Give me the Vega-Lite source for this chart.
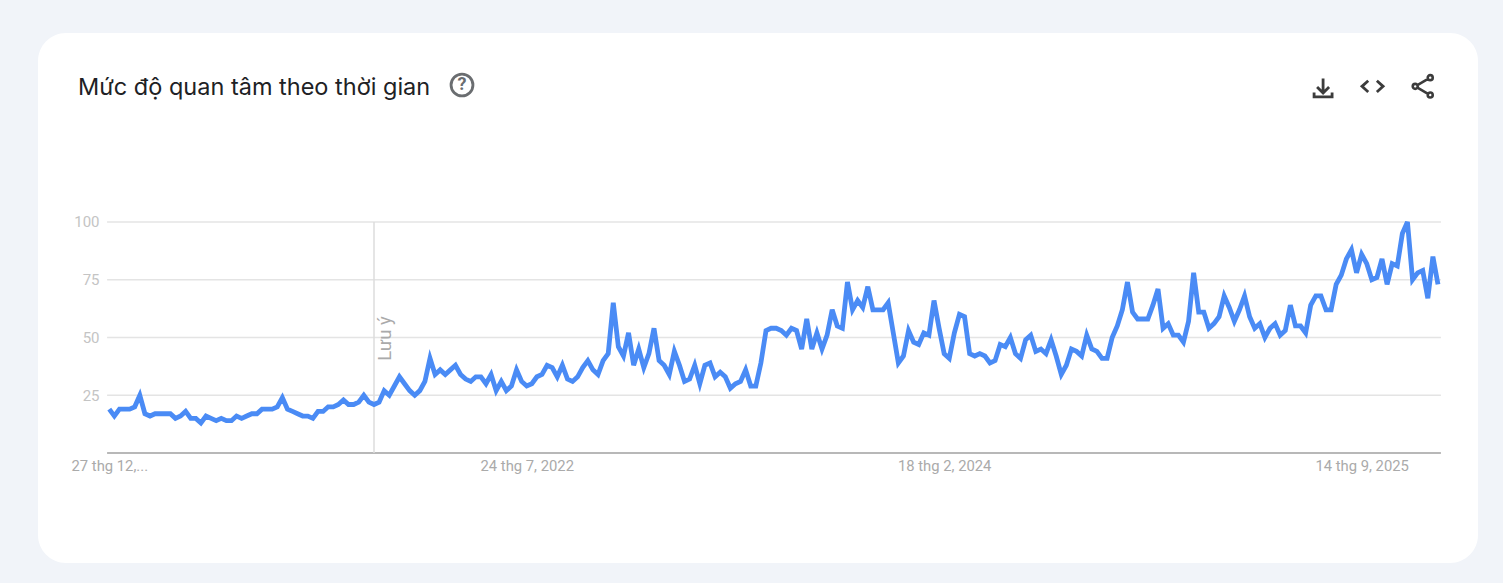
{
"$schema":"https://vega.github.io/schema/vega-lite/v6.json",
"autosize":{"type":"none"},
"width":1440,"height":530,
"padding":{"left":38,"top":33,"right":25,"bottom":20},
"background":"#f1f4f9",
"view":{"fill":"#ffffff","cornerRadius":28,"stroke":null},
"title":{"text":"Mức độ quan tâm theo thời gian","anchor":"start","frame":"group","orient":"top","offset":-85,"dx":40,"baseline":"alphabetic","font":"Inter","fontSize":23.5,"fontWeight":"normal","color":"#202124"},
"datasets":{
"grid":[{"date":"2020-12-24","end":"2026-01-01","v":25},{"date":"2020-12-24","end":"2026-01-01","v":50},{"date":"2020-12-24","end":"2026-01-01","v":75},{"date":"2020-12-24","end":"2026-01-01","v":100}],
"base":[{"date":"2020-12-24","end":"2026-01-01","v":0}],
"note":[{"date":"2021-12-26","v":0,"v2":100}],
"noteLabel":[{"date":"2022-01-10","v":49.6,"label":"Lưu ý"}],
"help":[{"date":"2022-04-26","v":159.3,"label":"?"}],
"icons":[
{"name":"download","date":"2025-07-23","v":158},
{"name":"code","date":"2025-09-29","v":158.7},
{"name":"share","date":"2025-12-07","v":158.7}],
"trend":[
{"date":"2020-12-27","v":19},{"date":"2021-01-03","v":16},{"date":"2021-01-10","v":19},{"date":"2021-01-17","v":19},{"date":"2021-01-24","v":19},{"date":"2021-01-31","v":20},{"date":"2021-02-07","v":25},{"date":"2021-02-14","v":17},{"date":"2021-02-21","v":16},{"date":"2021-02-28","v":17},
{"date":"2021-03-07","v":17},{"date":"2021-03-14","v":17},{"date":"2021-03-21","v":17},{"date":"2021-03-28","v":15},{"date":"2021-04-04","v":16},{"date":"2021-04-11","v":18},{"date":"2021-04-18","v":15},{"date":"2021-04-25","v":15},{"date":"2021-05-02","v":13},{"date":"2021-05-09","v":16},
{"date":"2021-05-16","v":15},{"date":"2021-05-23","v":14},{"date":"2021-05-30","v":15},{"date":"2021-06-06","v":14},{"date":"2021-06-13","v":14},{"date":"2021-06-20","v":16},{"date":"2021-06-27","v":15},{"date":"2021-07-04","v":16},{"date":"2021-07-11","v":17},{"date":"2021-07-18","v":17},
{"date":"2021-07-25","v":19},{"date":"2021-08-01","v":19},{"date":"2021-08-08","v":19},{"date":"2021-08-15","v":20},{"date":"2021-08-22","v":24},{"date":"2021-08-29","v":19},{"date":"2021-09-05","v":18},{"date":"2021-09-12","v":17},{"date":"2021-09-19","v":16},{"date":"2021-09-26","v":16},
{"date":"2021-10-03","v":15},{"date":"2021-10-10","v":18},{"date":"2021-10-17","v":18},{"date":"2021-10-24","v":20},{"date":"2021-10-31","v":20},{"date":"2021-11-07","v":21},{"date":"2021-11-14","v":23},{"date":"2021-11-21","v":21},{"date":"2021-11-28","v":21},{"date":"2021-12-05","v":22},
{"date":"2021-12-12","v":25},{"date":"2021-12-19","v":22},{"date":"2021-12-26","v":21},{"date":"2022-01-02","v":22},{"date":"2022-01-09","v":27},{"date":"2022-01-16","v":25},{"date":"2022-01-23","v":29},{"date":"2022-01-30","v":33},{"date":"2022-02-06","v":30},{"date":"2022-02-13","v":27},
{"date":"2022-02-20","v":25},{"date":"2022-02-27","v":27},{"date":"2022-03-06","v":31},{"date":"2022-03-13","v":41},{"date":"2022-03-20","v":34},{"date":"2022-03-27","v":36},{"date":"2022-04-03","v":34},{"date":"2022-04-10","v":36},{"date":"2022-04-17","v":38},{"date":"2022-04-24","v":34},
{"date":"2022-05-01","v":32},{"date":"2022-05-08","v":31},{"date":"2022-05-15","v":33},{"date":"2022-05-22","v":33},{"date":"2022-05-29","v":30},{"date":"2022-06-05","v":34},{"date":"2022-06-12","v":27},{"date":"2022-06-19","v":31},{"date":"2022-06-26","v":27},{"date":"2022-07-03","v":29},
{"date":"2022-07-10","v":36},{"date":"2022-07-17","v":31},{"date":"2022-07-24","v":29},{"date":"2022-07-31","v":30},{"date":"2022-08-07","v":33},{"date":"2022-08-14","v":34},{"date":"2022-08-21","v":38},{"date":"2022-08-28","v":37},{"date":"2022-09-04","v":33},{"date":"2022-09-11","v":38},
{"date":"2022-09-18","v":32},{"date":"2022-09-25","v":31},{"date":"2022-10-02","v":33},{"date":"2022-10-09","v":37},{"date":"2022-10-16","v":40},{"date":"2022-10-23","v":36},{"date":"2022-10-30","v":34},{"date":"2022-11-06","v":40},{"date":"2022-11-13","v":43},{"date":"2022-11-20","v":65},
{"date":"2022-11-27","v":46},{"date":"2022-12-04","v":42},{"date":"2022-12-11","v":52},{"date":"2022-12-18","v":38},{"date":"2022-12-25","v":45},{"date":"2023-01-01","v":37},{"date":"2023-01-08","v":43},{"date":"2023-01-15","v":54},{"date":"2023-01-22","v":40},{"date":"2023-01-29","v":38},
{"date":"2023-02-05","v":34},{"date":"2023-02-12","v":44},{"date":"2023-02-19","v":38},{"date":"2023-02-26","v":31},{"date":"2023-03-05","v":32},{"date":"2023-03-12","v":38},{"date":"2023-03-19","v":30},{"date":"2023-03-26","v":38},{"date":"2023-04-02","v":39},{"date":"2023-04-09","v":33},
{"date":"2023-04-16","v":35},{"date":"2023-04-23","v":33},{"date":"2023-04-30","v":28},{"date":"2023-05-07","v":30},{"date":"2023-05-14","v":31},{"date":"2023-05-21","v":36},{"date":"2023-05-28","v":29},{"date":"2023-06-04","v":29},{"date":"2023-06-11","v":39},{"date":"2023-06-18","v":53},
{"date":"2023-06-25","v":54},{"date":"2023-07-02","v":54},{"date":"2023-07-09","v":53},{"date":"2023-07-16","v":51},{"date":"2023-07-23","v":54},{"date":"2023-07-30","v":53},{"date":"2023-08-06","v":45},{"date":"2023-08-13","v":58},{"date":"2023-08-20","v":45},{"date":"2023-08-27","v":52},
{"date":"2023-09-03","v":45},{"date":"2023-09-10","v":51},{"date":"2023-09-17","v":62},{"date":"2023-09-24","v":55},{"date":"2023-10-01","v":54},{"date":"2023-10-08","v":74},{"date":"2023-10-15","v":62},{"date":"2023-10-22","v":66},{"date":"2023-10-29","v":63},{"date":"2023-11-05","v":72},
{"date":"2023-11-12","v":62},{"date":"2023-11-19","v":62},{"date":"2023-11-26","v":62},{"date":"2023-12-03","v":65},{"date":"2023-12-10","v":52},{"date":"2023-12-17","v":39},{"date":"2023-12-24","v":42},{"date":"2023-12-31","v":53},{"date":"2024-01-07","v":48},{"date":"2024-01-14","v":47},
{"date":"2024-01-21","v":52},{"date":"2024-01-28","v":51},{"date":"2024-02-04","v":66},{"date":"2024-02-11","v":54},{"date":"2024-02-18","v":43},{"date":"2024-02-25","v":41},{"date":"2024-03-03","v":52},{"date":"2024-03-10","v":60},{"date":"2024-03-17","v":59},{"date":"2024-03-24","v":43},
{"date":"2024-03-31","v":42},{"date":"2024-04-07","v":43},{"date":"2024-04-14","v":42},{"date":"2024-04-21","v":39},{"date":"2024-04-28","v":40},{"date":"2024-05-05","v":47},{"date":"2024-05-12","v":46},{"date":"2024-05-19","v":50},{"date":"2024-05-26","v":43},{"date":"2024-06-02","v":41},
{"date":"2024-06-09","v":49},{"date":"2024-06-16","v":51},{"date":"2024-06-23","v":44},{"date":"2024-06-30","v":45},{"date":"2024-07-07","v":43},{"date":"2024-07-14","v":49},{"date":"2024-07-21","v":42},{"date":"2024-07-28","v":34},{"date":"2024-08-04","v":38},{"date":"2024-08-11","v":45},
{"date":"2024-08-18","v":44},{"date":"2024-08-25","v":42},{"date":"2024-09-01","v":51},{"date":"2024-09-08","v":45},{"date":"2024-09-15","v":44},{"date":"2024-09-22","v":41},{"date":"2024-09-29","v":41},{"date":"2024-10-06","v":50},{"date":"2024-10-13","v":55},{"date":"2024-10-20","v":62},
{"date":"2024-10-27","v":74},{"date":"2024-11-03","v":61},{"date":"2024-11-10","v":58},{"date":"2024-11-17","v":58},{"date":"2024-11-24","v":58},{"date":"2024-12-01","v":64},{"date":"2024-12-08","v":71},{"date":"2024-12-15","v":54},{"date":"2024-12-22","v":56},{"date":"2024-12-29","v":51},
{"date":"2025-01-05","v":51},{"date":"2025-01-12","v":48},{"date":"2025-01-19","v":57},{"date":"2025-01-26","v":78},{"date":"2025-02-02","v":61},{"date":"2025-02-09","v":61},{"date":"2025-02-16","v":54},{"date":"2025-02-23","v":56},{"date":"2025-03-02","v":59},{"date":"2025-03-09","v":68},
{"date":"2025-03-16","v":63},{"date":"2025-03-23","v":57},{"date":"2025-03-30","v":62},{"date":"2025-04-06","v":68},{"date":"2025-04-13","v":59},{"date":"2025-04-20","v":54},{"date":"2025-04-27","v":56},{"date":"2025-05-04","v":50},{"date":"2025-05-11","v":54},{"date":"2025-05-18","v":56},
{"date":"2025-05-25","v":51},{"date":"2025-06-01","v":53},{"date":"2025-06-08","v":64},{"date":"2025-06-15","v":55},{"date":"2025-06-22","v":55},{"date":"2025-06-29","v":52},{"date":"2025-07-06","v":64},{"date":"2025-07-13","v":68},{"date":"2025-07-20","v":68},{"date":"2025-07-27","v":62},
{"date":"2025-08-03","v":62},{"date":"2025-08-10","v":73},{"date":"2025-08-17","v":77},{"date":"2025-08-24","v":84},{"date":"2025-08-31","v":88},{"date":"2025-09-07","v":78},{"date":"2025-09-14","v":86},{"date":"2025-09-21","v":82},{"date":"2025-09-28","v":75},{"date":"2025-10-05","v":76},
{"date":"2025-10-12","v":84},{"date":"2025-10-19","v":73},{"date":"2025-10-26","v":82},{"date":"2025-11-02","v":81},{"date":"2025-11-09","v":95},{"date":"2025-11-16","v":100},{"date":"2025-11-23","v":75},{"date":"2025-11-30","v":78},{"date":"2025-12-07","v":79},{"date":"2025-12-14","v":67},
{"date":"2025-12-21","v":85},{"date":"2025-12-28","v":73}]
},
"encoding":{
"x":{"field":"date","type":"temporal","title":null,
"scale":{"type":"utc","domain":["2020-09-20","2026-02-21"]},
"axis":{"values":["2020-12-27","2022-07-24","2024-02-18","2025-09-14"],"grid":false,"domain":false,"ticks":false,"offset":-110,"labelPadding":5,"labelFont":"Roboto","labelFontSize":14.8,"labelColor":"#aaaaaa","labelOverlap":false,"labelFlush":false,
"labelExpr":"utcyear(datum.value)==2020 ? '27 thg 12,...' : utcFormat(datum.value,'%-d thg %-m, %Y')"}},
"y":{"field":"v","type":"quantitative","title":null,
"scale":{"domain":[-47.6,181.8],"nice":false,"zero":false},
"axis":{"values":[25,50,75,100],"grid":false,"domain":false,"ticks":false,"offset":-61,"labelPadding":0,"labelFont":"Roboto","labelFontSize":15,"labelColor":"#c4c4c4"}}
},
"layer":[
{"data":{"name":"grid"},"mark":{"type":"rule","stroke":"#e4e4e4","strokeWidth":1.5},"encoding":{"x2":{"field":"end"}}},
{"data":{"name":"base"},"mark":{"type":"rule","stroke":"#b8b8b8","strokeWidth":2},"encoding":{"x2":{"field":"end"}}},
{"data":{"name":"note"},"mark":{"type":"rule","stroke":"#dddddd","strokeWidth":1.5},"encoding":{"y2":{"field":"v2"}}},
{"data":{"name":"noteLabel"},"mark":{"type":"text","angle":270,"font":"Roboto","fontSize":18.5,"color":"#aaaaaa","align":"center","baseline":"middle"},"encoding":{"text":{"field":"label"}}},
{"data":{"name":"trend"},"mark":{"type":"line","stroke":"#4a8bf5","strokeWidth":4.8,"interpolate":"linear"}},
{"data":{"name":"help"},"mark":{"type":"point","shape":"circle","size":480,"filled":false,"stroke":"#6a6d70","strokeWidth":2.8,"opacity":1}},
{"data":{"name":"help"},"mark":{"type":"text","font":"Roboto","fontSize":18,"fontWeight":"bold","color":"#6a6d70","align":"center","baseline":"middle"},"encoding":{"text":{"field":"label"}}},
{"data":{"name":"icons"},"transform":[{"filter":"datum.name=='download'"}],"mark":{"type":"point","filled":false,"stroke":"#3c3c3c","strokeWidth":2.8,"opacity":1,"size":400,"shape":"M0 -0.95 V0.45 M-0.6 -0.1 L0 0.5 L0.6 -0.1 M-0.9 0.45 V0.88 H0.9 V0.45"}},
{"data":{"name":"icons"},"transform":[{"filter":"datum.name=='code'"}],"mark":{"type":"point","filled":false,"stroke":"#3c3c3c","strokeWidth":2.8,"opacity":1,"size":576,"shape":"M-0.36 -0.47 L-0.88 0 L-0.36 0.47 M0.36 -0.47 L0.88 0 L0.36 0.47"}},
{"data":{"name":"icons"},"transform":[{"filter":"datum.name=='share'"}],"mark":{"type":"point","filled":false,"stroke":"#3c3c3c","strokeWidth":2.6,"opacity":1,"size":400,"shape":"M0.53 -0.74 L-0.53 -0.13 M0.53 0.74 L-0.53 0.13 M0.5 -0.87 a0.25 0.25 0 1 0 0.5 0 a0.25 0.25 0 1 0 -0.5 0 M-1 0 a0.25 0.25 0 1 0 0.5 0 a0.25 0.25 0 1 0 -0.5 0 M0.5 0.87 a0.25 0.25 0 1 0 0.5 0 a0.25 0.25 0 1 0 -0.5 0"}}
]
}
